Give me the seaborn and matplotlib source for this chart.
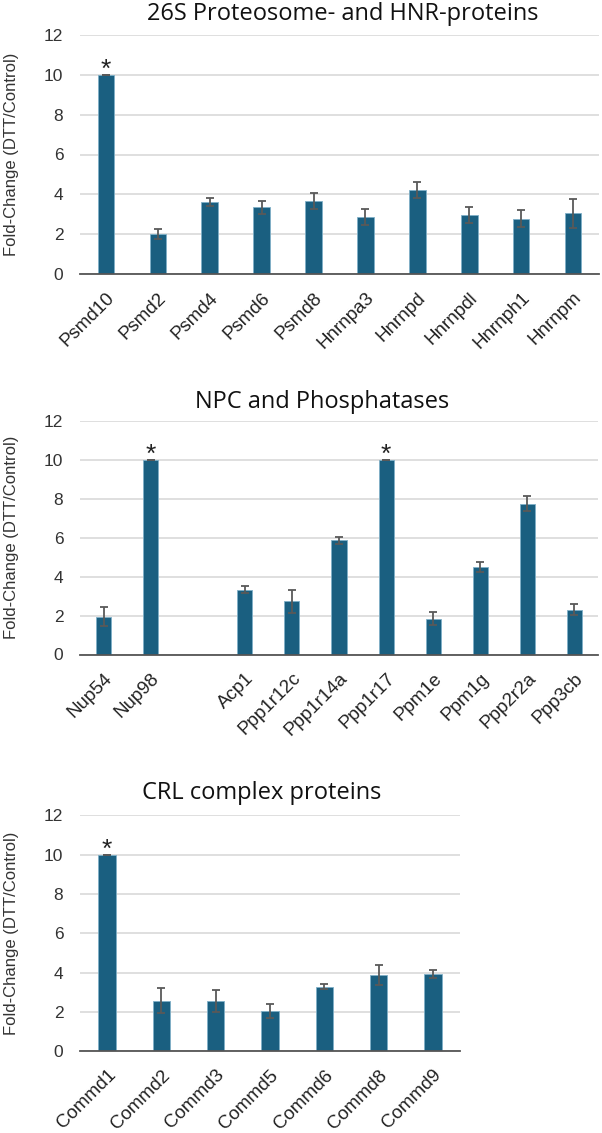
import matplotlib
matplotlib.use("Agg")
import matplotlib.pyplot as plt
import seaborn as sns
import numpy as np
import pandas as pd

# ---- data ----
p1_cats = ["Psmd10", "Psmd2", "Psmd4", "Psmd6", "Psmd8", "Hnrnpa3", "Hnrnpd", "Hnrnpdl", "Hnrnph1", "Hnrnpm"]
p1_vals = [10.0, 2.0, 3.6, 3.35, 3.68, 2.85, 4.22, 2.96, 2.78, 3.04]
p1_errs = [0.0, 0.25, 0.2, 0.32, 0.41, 0.4, 0.38, 0.42, 0.41, 0.71]
p1_star = ["Psmd10"]

p2_cats = ["Nup54", "Nup98", " ", "Acp1", "Ppp1r12c", "Ppp1r14a", "Ppp1r17", "Ppm1e", "Ppm1g", "Ppp2r2a", "Ppp3cb"]
p2_vals = [1.95, 10.0, np.nan, 3.34, 2.73, 5.86, 10.0, 1.85, 4.5, 7.74, 2.3]
p2_errs = [0.51, 0.0, np.nan, 0.19, 0.58, 0.2, 0.0, 0.32, 0.25, 0.38, 0.28]
p2_star = ["Nup98", "Ppp1r17"]

p3_cats = ["Commd1", "Commd2", "Commd3", "Commd5", "Commd6", "Commd8", "Commd9"]
p3_vals = [10.0, 2.57, 2.57, 2.06, 3.28, 3.88, 3.93]
p3_errs = [0.0, 0.63, 0.56, 0.36, 0.12, 0.49, 0.2]
p3_star = ["Commd1"]

titles = ["26S Proteosome- and HNR-proteins", "NPC and Phosphatases", "CRL complex proteins"]
ylabel = "Fold-Change (DTT/Control)"
yticks = [0, 2, 4, 6, 8, 10, 12]

sns.set_theme(style="white")
plt.rcParams["font.family"] = ["Liberation Sans", "DejaVu Sans"]

BAR = "#1a5f80"
ERR = "#595959"
GRID = "#d9d9d9"

W, H = 602, 1133
fig = plt.figure(figsize=(W / 100, H / 100), dpi=100)

def px_axes(left, top, right, bottom):
    return fig.add_axes([left / W, 1 - bottom / H, (right - left) / W, (bottom - top) / H])

panels = [
    (p1_cats, p1_vals, p1_errs, p1_star, (80, 35, 599, 274), 0.507, 14),
    (p2_cats, p2_vals, p2_errs, p2_star, (80, 421, 598, 654.5), 0.467, 402),
    (p3_cats, p3_vals, p3_errs, p3_star, (80, 815.3, 460, 1051.3), 0.479, 793),
]

for i, (cats, vals, errs, stars, box, tx, ty) in enumerate(panels):
    ax = px_axes(*box)
    df = pd.DataFrame({"cat": cats, "val": vals})
    sns.barplot(data=df, x="cat", y="val", order=cats, color=BAR, width=0.32,
                errorbar=None, ax=ax, saturation=1, edgecolor="#7fb0c8", linewidth=0.6, zorder=3)
    xs = np.arange(len(cats))
    v = np.array(vals, dtype=float)
    e = np.array(errs, dtype=float)
    m = ~np.isnan(v)
    ax.errorbar(xs[m], v[m], yerr=e[m], fmt="none", ecolor=ERR, elinewidth=1.3,
                capsize=2.6, capthick=1.3, zorder=4)
    for s in stars:
        k = cats.index(s)
        ax.text(k, vals[k] - 0.1, "*", ha="center", va="baseline", fontsize=19, color="#222222")
    ax.set_xlim(-0.5, len(cats) - 0.5)
    ax.set_ylim(0, 12)
    ax.set_yticks(yticks)
    ax.yaxis.grid(True, color=GRID, linewidth=1.2, zorder=0)
    ax.set_axisbelow(True)
    for sp in ["top", "right", "left"]:
        ax.spines[sp].set_visible(False)
    ax.spines["bottom"].set_color("#555555")
    ax.spines["bottom"].set_linewidth(1.3)
    ax.spines["bottom"].set_zorder(5)
    ax.tick_params(axis="y", length=0, pad=12, labelsize=12.5, labelcolor="#333333")
    ax.tick_params(axis="x", length=0, pad=11, labelsize=13.5, labelcolor="#222222")
    ax.set_xticks(xs)
    ax.set_xticklabels(cats, rotation=45, ha="right", rotation_mode="anchor")
    ax.set_xlabel("")
    ax.set_ylabel(ylabel, fontsize=12, color="#333333")
    ax.yaxis.set_label_coords(-(80 - 19) / (box[2] - box[0]), 0.5)
    fig.text((box[0] + tx * (box[2] - box[0])) / W, 1 - ty / H, titles[i],
             ha="center", va="center", fontsize=17, color="#111111",
             family=["Open Sans", "DejaVu Sans"])

fig.savefig("out.png", dpi=100)
